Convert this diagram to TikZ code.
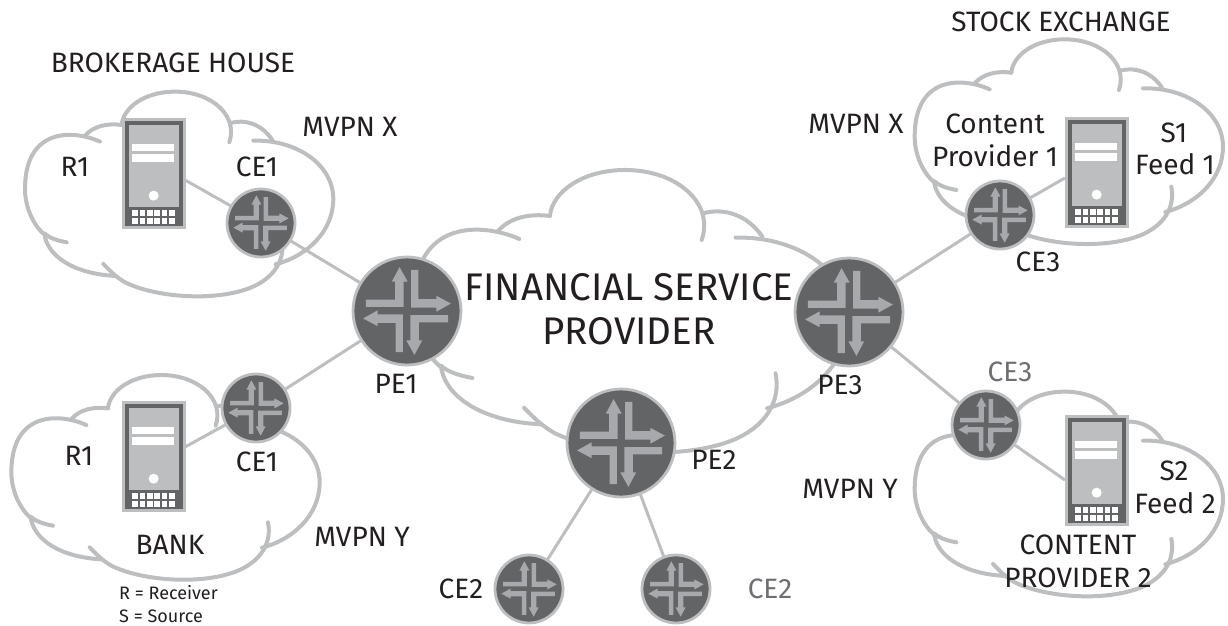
\documentclass[tikz,border=0pt]{standalone}
\usepackage{fontspec}
\setmainfont{Fira Sans}
\definecolor{cloudgray}{HTML}{BCBEC0}
\definecolor{routerdark}{HTML}{636466}
\definecolor{arrowgray}{HTML}{A7A9AC}
\definecolor{srvlight}{HTML}{BCBEC0}
\definecolor{ink}{HTML}{231F20}
\definecolor{inkgray}{HTML}{6D6E71}
\tikzset{
  cloudline/.style={draw=cloudgray,line width=4pt,line cap=round,line join=round},
  link/.style={draw=cloudgray,line width=3pt},
  routernode/.style={circle,draw=cloudgray,fill=routerdark,line width=2.8pt,inner sep=0pt,outer sep=0pt},
  srvnode/.style={rectangle,draw=none,fill=srvlight,anchor=north west,minimum width=64pt,minimum height=111pt,inner sep=0pt,outer sep=0pt},
  lbl/.style={text=ink,inner sep=0pt,font=\fontsize{28}{32}\selectfont},
  lblg/.style={lbl,text=inkgray},
  lblbig/.style={text=ink,inner sep=0pt,font=\fontsize{38.5}{44}\selectfont},
  lblsmall/.style={text=ink,inner sep=0pt,anchor=west,font=\fontsize{18}{20}\selectfont},
}
\newcommand{\mycloud}[4]{%
  \begin{scope}[shift={(#1,#2)},xscale=#3,yscale=#4]
  \path[cloudline]
    (305,268) .. controls (225,232) and (80,225) .. (80,410)
    .. controls (80,470) and (110,525) .. (140,548);
  \path[cloudline]
    (205,570) .. controls (175,565) and (150,555) .. (138,543)
    .. controls (145,610) and (225,665) .. (352,671);
  \path[cloudline]
    (315,635) .. controls (340,660) and (350,672) .. (380,690)
    .. controls (470,735) and (650,750) .. (760,705)
    .. controls (830,675) and (862,620) .. (850,560);
  \path[cloudline]
    (832,636) .. controls (930,610) and (1005,535) .. (1005,440)
    .. controls (1005,340) and (900,262) .. (765,265);
  \path[cloudline]
    (822,263) .. controls (790,215) and (740,200) .. (697,212);
  \path[cloudline]
    (693,270) .. controls (720,190) and (640,118) .. (530,118)
    .. controls (440,118) and (375,165) .. (370,218);
  \path[cloudline]
    (370,218) .. controls (325,212) and (285,222) .. (260,250);
  \end{scope}}
\newcommand{\router}[4]{%
  \node[routernode,minimum size=#4*2pt] (#1) at (#2,#3) {};
  \begin{scope}[shift={(#2,#3)},scale=#4/160]
  \foreach \a in {0,90,180,270}{
    \fill[arrowgray,rotate=\a,shift={(2,0)}]
      (-124,-34)--(-37,-34)--(-37,-87)--(-47,-87)--(-24,-130)--(0,-87)--(-12,-87)--(-12,-12)--(-124,-12)--cycle;
  }
  \end{scope}}
\newcommand{\server}[3]{%
  \node[srvnode] (#1) at (#2,#3) {};
  \begin{scope}[shift={(#2,#3)},scale=1/3]
  \fill[routerdark] (10,10) rectangle (183,325);
  \fill[srvlight] (22,22) rectangle (170,267);
  \fill[white] (31,77) rectangle (157,99);
  \fill[white] (31,109) rectangle (157,131);
  \fill[white] (95,233) circle (15);
  \foreach \i in {0,1,2,3,4,5}{
    \fill[white] (31+\i*22,277) rectangle +(17,16);
    \fill[white] (31+\i*22,301) rectangle +(17,16);
  }
  \end{scope}}
\begin{document}
\begin{tikzpicture}[x=1pt,y=-1pt]
\useasboundingbox (0,0) rectangle (1228,626);
\mycloud{-1.67}{52.3}{0.3333}{0.3333}
\mycloud{-15.3}{335.7}{0.3333}{0.3333}
\mycloud{888}{0}{0.3333}{0.3333}
\mycloud{888}{352.3}{0.3333}{0.3333}
\mycloud{376}{115.7}{0.47}{0.46}
\router{ceA}{261}{223}{34}
\router{ceB}{256}{408}{34}
\router{ceC}{1000}{215}{34}
\router{ceD}{986}{425}{34}
\router{ceE}{529}{589}{34}
\router{ceF}{676}{589}{34}
\router{peA}{407}{311}{54}
\router{peB}{621}{443}{54}
\router{peC}{849}{312}{54}
\server{srvA}{122}{118}
\server{srvB}{122}{401}
\server{srvC}{1065}{117}
\server{srvD}{1065}{415}
\coordinate (pA) at (185,180);
\coordinate (pB) at (185,447);
\coordinate (pC) at (1065,178);
\coordinate (pD) at (1065,480);
\draw[link] (pA) -- (ceA);
\draw[link] (pB) -- (ceB);
\draw[link] (pC) -- (ceC);
\draw[link] (pD) -- (ceD);
\draw[link] (ceA) -- (peA);
\draw[link] (ceB) -- (peA);
\draw[link] (ceC) -- (peC);
\draw[link] (ceD) -- (peC);
\draw[link] (peB) -- (ceE);
\draw[link] (peB) -- (ceF);
\node[lbl] (t1) at (173,63) {BROKERAGE HOUSE};
\node[lbl] (t2) at (350,127) {MVPN X};
\node[lbl] (t3) at (75,167) {R1};
\node[lbl] (t4) at (257,167) {CE1};
\node[lbl] (t5) at (396,384) {PE1};
\node[lbl] (t6) at (79,456) {R1};
\node[lbl] (t7) at (257,462) {CE1};
\node[lbl] (t8) at (170,545) {BANK};
\node[lbl] (t9) at (362,537) {MVPN Y};
\node[lblsmall] (t10) at (119,593) {R = Receiver};
\node[lblsmall] (t11) at (119,616) {S = Source};
\node[lblbig] (t12) at (629,287) {FINANCIAL SERVICE};
\node[lblbig] (t13) at (629,331) {PROVIDER};
\node[lbl] (t14) at (714,460) {PE2};
\node[lbl] (t15) at (840,385) {PE3};
\node[lbl] (t16) at (1061,22) {STOCK EXCHANGE};
\node[lbl] (t17) at (856,124) {MVPN X};
\node[lbl] (t18) at (995,124) {Content};
\node[lbl] (t19) at (995,156) {Provider 1};
\node[lbl] (t20) at (1174,133) {S1};
\node[lbl] (t21) at (1175,164) {Feed 1};
\node[lbl] (t22) at (1038,262) {CE3};
\node[lblg] (t23) at (1010,372) {CE3};
\node[lbl] (t24) at (1174,471) {S2};
\node[lbl] (t25) at (1175,503) {Feed 2};
\node[lbl] (t26) at (1078,545) {CONTENT};
\node[lbl] (t27) at (1078,578) {PROVIDER 2};
\node[lbl] (t28) at (850,489) {MVPN Y};
\node[lbl] (t29) at (461,589) {CE2};
\node[lblg] (t30) at (770,589) {CE2};
\end{tikzpicture}
\end{document}
